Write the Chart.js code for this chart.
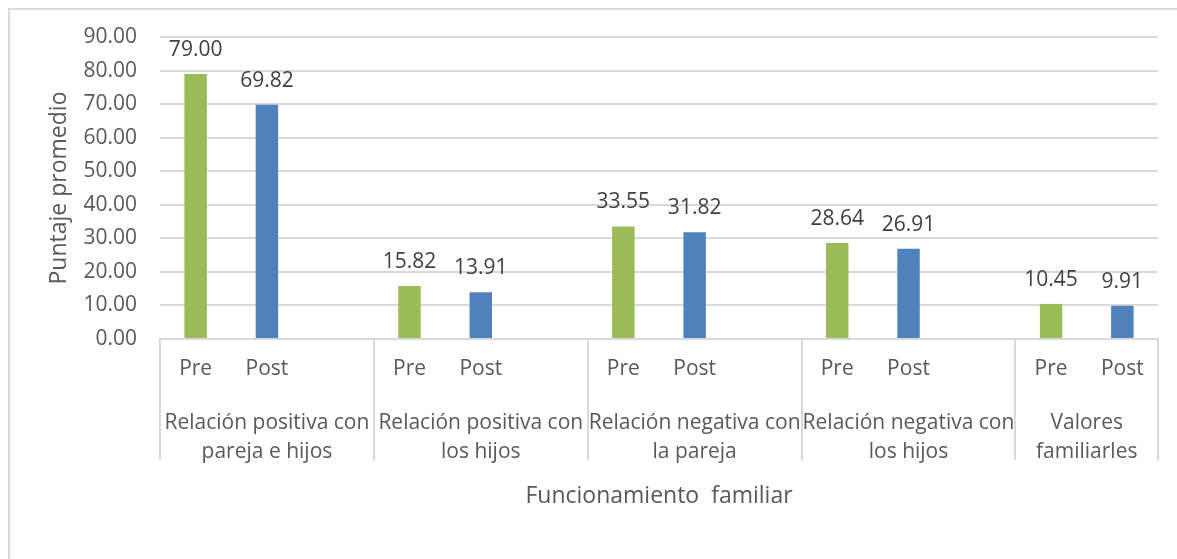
<!DOCTYPE html>
<html lang="es">
<head>
    <meta charset="UTF-8">
    <title>Funcionamiento familiar</title>
    <script src="https://cdn.jsdelivr.net/npm/chart.js"></script>
    <style>
        body { margin: 0; background: #fff; overflow: hidden; }
        #marco { position: absolute; left: 8px; top: 8px; width: 1300px; height: 700px;
                 border-left: 2px solid #d9d9d9; border-top: 2px solid #d9d9d9; }
        #wrap { position: absolute; left: 0; top: 0; width: 1177px; height: 559px; }
    </style>
</head>
<body>
<div id="marco"></div>
<div id="wrap"><canvas id="grafico"></canvas></div>

<script>
    // Datos
    const grupos = [
        ["Relación positiva con", "pareja e hijos"],
        ["Relación positiva con", "los hijos"],
        ["Relación negativa con", "la pareja"],
        ["Relación negativa con", "los hijos"],
        ["Valores", "familiarles"]
    ];
    const momentos = ["Pre", "Post"];
    const valoresPre = [79.00, 15.82, 33.55, 28.64, 10.45];
    const valoresPost = [69.82, 13.91, 31.82, 26.91, 9.91];
    const yTicks = [0, 10, 20, 30, 40, 50, 60, 70, 80, 90];

    // categorías: Pre, Post y un hueco entre grupos (como en Excel)
    const etiquetas = [], datosPre = [], datosPost = [], inicioGrupo = [], centroGrupo = [];
    grupos.forEach((g, i) => {
        inicioGrupo.push(etiquetas.length);
        etiquetas.push(momentos[0]); datosPre.push(valoresPre[i]); datosPost.push(null);
        etiquetas.push(momentos[1]); datosPre.push(null); datosPost.push(valoresPost[i]);
        const ultimo = i === grupos.length - 1;
        if (!ultimo) { etiquetas.push(""); datosPre.push(null); datosPost.push(null); }
        const fin = etiquetas.length - 1;
        centroGrupo.push((inicioGrupo[i] + fin) / 2);
    });

    Chart.defaults.font.family = "'Open Sans', sans-serif";
    Chart.defaults.font.size = 21;
    Chart.defaults.color = '#595959';

    const etiquetasBarras = {
        id: 'etiquetasBarras',
        afterDatasetsDraw(chart) {
            const ctx = chart.ctx;
            ctx.save();
            ctx.font = "21px 'Open Sans'";
            ctx.fillStyle = '#404040';
            ctx.textAlign = 'center';
            ctx.textBaseline = 'alphabetic';
            chart.data.datasets.forEach((ds, i) => {
                chart.getDatasetMeta(i).data.forEach((bar, j) => {
                    const v = ds.data[j];
                    if (v === null) return;
                    ctx.fillText(v.toFixed(2), bar.x, bar.y - 18);
                });
            });
            ctx.restore();
        }
    };

    new Chart(document.getElementById("grafico"), {
        type: 'bar',
        data: {
            labels: etiquetas,
            datasets: [
                { label: "Pre", data: datosPre, backgroundColor: "#9bbb59" },
                { label: "Post", data: datosPost, backgroundColor: "#4f81bd" }
            ]
        },
        options: {
            responsive: true,
            maintainAspectRatio: false,
            animation: false,
            skipNull: true,
            categoryPercentage: 1,
            barPercentage: 0.315,
            layout: { padding: { left: 46, right: 19, top: 37, bottom: 48.5 } },
            plugins: { legend: { display: false }, tooltip: { enabled: false } },
            scales: {
                y: {
                    min: 0, max: 90,
                    afterBuildTicks: s => { s.ticks = yTicks.map(v => ({ value: v })); },
                    afterFit: s => { s.width = 114; },
                    ticks: { padding: 23, callback: v => v.toFixed(2) },
                    grid: { color: '#d9d9d9', lineWidth: 2, drawTicks: false },
                    border: { display: false },
                    title: { display: true, text: 'Puntaje promedio', padding: 0, font: { size: 23 } }
                },
                x: {
                    weight: 0,
                    afterFit: s => { s.height = 43; },
                    grid: {
                        offset: true, drawOnChartArea: false, drawTicks: true, tickLength: 121,
                        lineWidth: 2,
                        color: c => (c.index === undefined || inicioGrupo.includes(c.index)) ? '#d9d9d9' : 'rgba(0,0,0,0)'
                    },
                    border: { display: true, color: '#d9d9d9', width: 2 },
                    ticks: { autoSkip: false, maxRotation: 0, padding: -103.6 }
                },
                x2: {
                    type: 'linear',
                    position: 'bottom',
                    weight: 1,
                    offset: false,
                    min: -0.5,
                    max: etiquetas.length - 0.5,
                    afterBuildTicks: s => { s.ticks = centroGrupo.map(v => ({ value: v })); },
                    afterFit: s => { s.height = 128.5; },
                    ticks: {
                        autoSkip: false, maxRotation: 0, padding: 19,
                        font: { lineHeight: 1.381 },
                        callback: (v, i) => grupos[i]
                    },
                    grid: { display: false, offset: false },
                    border: { display: false },
                    title: { display: true, text: 'Funcionamiento  familiar', padding: { top: 25, bottom: 0 }, font: { size: 23 } }
                }
            }
        },
        plugins: [etiquetasBarras]
    });
</script>
</body>
</html>
